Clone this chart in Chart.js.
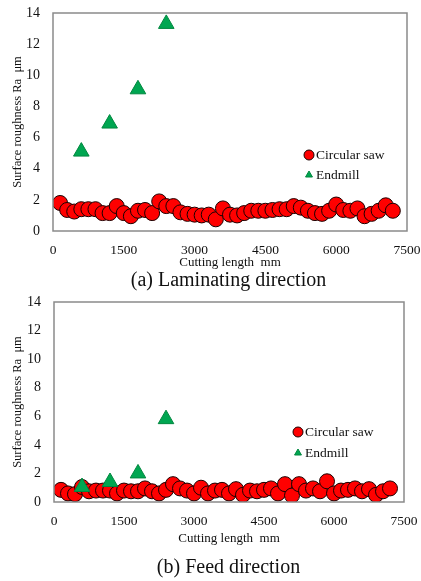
<!DOCTYPE html>
<html>
<head>
<meta charset="utf-8">
<script src="https://cdn.jsdelivr.net/npm/chart.js@4"></script>
<style>
  body { margin: 0; background: #fff; width: 421px; height: 581px; position: relative; overflow: hidden; }
  .box { position: absolute; left: 0; width: 421px; }
  .cap { position: absolute; left: 0; width: 421px; text-align: center; font-family: "Liberation Serif", serif; font-size: 20px; color: #111; }
</style>
</head>
<body>
<div class="box" style="top:0;height:270px"><canvas id="chartA"></canvas></div>
<div class="cap" style="top:268px;left:18px">(a) Laminating direction</div>
<div class="box" style="top:290px;height:256px"><canvas id="chartB"></canvas></div>
<div class="cap" style="top:555px;left:18px">(b) Feed direction</div>
<script>
// cutting length positions (mm)
const sawLength = [150, 300, 450, 600, 750, 900, 1050, 1200, 1350, 1500, 1650, 1800, 1950, 2100, 2250, 2400,
  2550, 2700, 2850, 3000, 3150, 3300, 3450, 3600, 3750, 3900, 4050, 4200, 4350, 4500, 4650, 4800,
  4950, 5100, 5250, 5400, 5550, 5700, 5850, 6000, 6150, 6300, 6450, 6600, 6750, 6900, 7050, 7200];
const endmillLength = [600, 1200, 1800, 2400];

// (a) laminating direction, Ra in um
const sawLaminating = [1.8, 1.35, 1.25, 1.4, 1.4, 1.4, 1.15, 1.15, 1.6, 1.15, 0.95, 1.3, 1.35, 1.15, 1.9, 1.6,
  1.6, 1.2, 1.1, 1.05, 1.0, 1.05, 0.75, 1.45, 1.05, 1.0, 1.15, 1.3, 1.3, 1.3, 1.35, 1.4,
  1.4, 1.6, 1.5, 1.3, 1.15, 1.1, 1.3, 1.7, 1.35, 1.3, 1.45, 0.95, 1.1, 1.3, 1.65, 1.3];
const endmillLaminating = [5.1, 6.9, 9.1, 13.3];

// (b) feed direction, Ra in um
const sawFeed = [0.85, 0.6, 0.55, 1.05, 0.75, 0.8, 0.8, 0.8, 0.6, 0.8, 0.75, 0.75, 0.95, 0.75, 0.6, 0.85,
  1.25, 0.95, 0.8, 0.6, 1.0, 0.6, 0.8, 0.85, 0.6, 0.9, 0.5, 0.8, 0.75, 0.85, 0.95, 0.6,
  1.25, 0.45, 1.25, 0.8, 0.95, 0.75, 1.45, 0.6, 0.8, 0.85, 0.95, 0.75, 0.9, 0.5, 0.75, 0.95];
const endmillFeed = [1.05, 1.4, 2.0, 5.8];

const xTicks = [0, 1500, 3000, 4500, 6000, 7500];
const yTicks = [0, 2, 4, 6, 8, 10, 12, 14];

const serif = "'Liberation Serif', 'Times New Roman', serif";

function toPoints(xs, ys) {
  return xs.map((x, i) => ({ x: x, y: ys[i] }));
}

// box round the plot area
const frame = {
  id: 'frame',
  afterDatasetsDraw(chart) {
    const a = chart.chartArea, ctx = chart.ctx;
    ctx.save();
    ctx.strokeStyle = '#8a8a8a';
    ctx.lineWidth = 1.5;
    ctx.strokeRect(a.left, a.top, a.right - a.left, a.bottom - a.top);
    ctx.restore();
  }
};

// legend drawn inside the plot
const innerLegend = {
  id: 'innerLegend',
  afterDraw(chart, args, opts) {
    const ctx = chart.ctx;
    ctx.save();
    ctx.font = '13.5px ' + serif;
    ctx.textBaseline = 'middle';
    chart.data.datasets.forEach((ds, i) => {
      const y = opts.y + i * opts.gap;
      ctx.fillStyle = ds.backgroundColor;
      ctx.strokeStyle = ds.borderColor;
      ctx.lineWidth = 1;
      Chart.helpers.drawPoint(ctx, {
        pointStyle: ds.pointStyle,
        radius: ds.legendRadius,
        borderWidth: 1
      }, opts.x, y);
      ctx.fillStyle = '#111';
      ctx.fillText(ds.label, opts.x + 7, y);
    });
    ctx.restore();
  }
};

function noPad(s) {
  s.paddingLeft = 0;
  s.paddingRight = 0;
  s.paddingTop = 0;
  s.paddingBottom = 0;
}

function makeChart(id, sawValues, endmillValues, pad, legendPos) {
  const ctx = document.getElementById(id).getContext('2d');
  Chart.defaults.font.family = serif;
  return new Chart(ctx, {
    type: 'scatter',
    data: {
      datasets: [
        {
          label: 'Circular saw',
          data: toPoints(sawLength, sawValues),
          pointStyle: 'circle',
          pointRadius: 7.5,
          pointHoverRadius: 7.5,
          legendRadius: 5,
          backgroundColor: '#ff0000',
          borderColor: '#1a0000',
          borderWidth: 1,
          order: 2
        },
        {
          label: 'Endmill',
          data: toPoints(endmillLength, endmillValues),
          pointStyle: 'triangle',
          pointRadius: 9,
          pointHoverRadius: 9,
          legendRadius: 4,
          backgroundColor: '#00a651',
          borderColor: '#00873f',
          borderWidth: 1,
          order: 1
        }
      ]
    },
    options: {
      responsive: true,
      maintainAspectRatio: false,
      animation: false,
      layout: { padding: { top: pad.top, right: pad.right, left: 0, bottom: 0 } },
      plugins: {
        legend: { display: false },
        tooltip: { enabled: false },
        innerLegend: legendPos
      },
      scales: {
        x: {
          type: 'linear',
          min: 0,
          max: 7500,
          afterBuildTicks: (s) => { s.ticks = xTicks.map(v => ({ value: v })); },
          afterFit: (s) => { s.height = pad.bottom; noPad(s); },
          grid: { display: false, drawTicks: false },
          border: { display: false },
          ticks: { color: '#111', font: { size: 13.5 }, padding: 11, callback: (v) => String(v) },
          title: {
            display: true,
            text: 'Cutting length  mm',
            color: '#111',
            font: { size: 13 },
            padding: { top: 0, bottom: 0 }
          }
        },
        y: {
          type: 'linear',
          min: 0,
          max: 14,
          afterBuildTicks: (s) => { s.ticks = yTicks.map(v => ({ value: v })); },
          afterFit: (s) => { s.width = pad.left; noPad(s); },
          grid: { display: false, drawTicks: false },
          border: { display: false },
          ticks: { color: '#111', font: { size: 14 }, padding: 13, callback: (v) => String(v) },
          title: {
            display: true,
            text: 'Surface roughness Ra  μm',
            color: '#111',
            font: { size: 12.5 },
            padding: { top: 10, bottom: 0 }
          }
        }
      }
    },
    plugins: [frame, innerLegend]
  });
}

makeChart('chartA', sawLaminating, endmillLaminating, { top: 13, right: 14, left: 53, bottom: 39 }, { x: 309, y: 155, gap: 20 });
makeChart('chartB', sawFeed, endmillFeed, { top: 12, right: 17, left: 54, bottom: 44 }, { x: 298, y: 142, gap: 21 });
</script>
</body>
</html>
